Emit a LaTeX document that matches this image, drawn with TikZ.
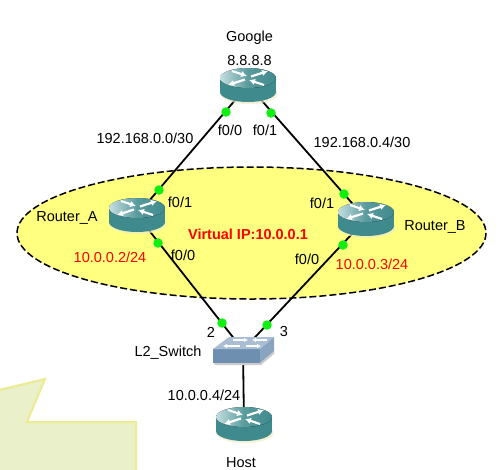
\documentclass[tikz,border=0pt]{standalone}
\usepackage{fontspec}
\setmainfont{Liberation Sans}
\usetikzlibrary{arrows.meta}
\definecolor{teal1}{HTML}{3F8A8D}
\definecolor{tealtop}{HTML}{C4DEE0}
\definecolor{ellfill}{HTML}{FFFF80}
\definecolor{callfill}{HTML}{EAF0C9}
\definecolor{calledge}{HTML}{EDEA90}
\definecolor{dotgreen}{HTML}{10F010}
\definecolor{swfront}{HTML}{6F8FB0}
\definecolor{swside}{HTML}{8AA3BF}
\definecolor{swtop}{HTML}{A9BDD3}
\tikzset{
  x=1pt,y=-1pt,
  lbl/.style={font=\fontsize{14.5}{16}\selectfont,inner sep=0pt,text=black},
  redlbl/.style={lbl,text=red},
  anchorbox/.style={inner sep=0pt,minimum width=56pt,minimum height=35pt},
  swbox/.style={inner sep=0pt,minimum width=60pt,minimum height=26pt},
  link/.style={draw=black,line width=1.8pt},
  portdot/.style={circle,fill=dotgreen,draw=none,inner sep=0pt,minimum size=9.5pt},
  whitearrow/.style={draw=white,line width=2.2pt,-{Latex[length=6pt,width=6.5pt]}},
  swarrow/.style={draw=white,line width=1.4pt,-{Latex[length=4pt,width=4.5pt]}},
}
\newcommand{\routericon}[1]{%
  \begin{scope}[shift={(#1.center)}]
    \fill[black!30!yellow!25!white,opacity=.7] (1,9) ellipse[x radius=28.5,y radius=10];
    \fill[teal1] (0,7) ellipse[x radius=28,y radius=10];
    \fill[teal1] (-28,-7) rectangle (28,7);
    \fill[left color=tealtop,right color=teal1,middle color=teal1!80!tealtop] (0,-7) ellipse[x radius=28,y radius=10];
    \draw[whitearrow] (-3,-5.5) -- (-20,0);
    \draw[whitearrow] (3,-8.5) -- (20,-14);
    \draw[whitearrow] (-16,-14) -- (-1,-9);
    \draw[whitearrow] (16,0) -- (1,-5);
  \end{scope}}
\newcommand{\switchicon}[1]{%
  \begin{scope}[shift={(#1.center)}]
    \fill[black!20] (-29,13) -- (17,13) -- (31,1) -- (31,4) -- (18,15) -- (-28,15) -- cycle;
    \fill[swfront] (-30,-1) -- (17,-1) -- (17,13) -- (-30,13) -- cycle;
    \fill[swside] (17,-1) -- (31,-13) -- (31,1) -- (17,13) -- cycle;
    \fill[swtop] (-30,-1) -- (-14,-13) -- (31,-13) -- (17,-1) -- cycle;
    \draw[swarrow] (-10,-10) -- (5,-10);
    \draw[swarrow] (24,-10) -- (9,-10);
    \draw[swarrow] (-3,-4) -- (-20,-4);
    \draw[swarrow] (3,-4) -- (18,-4);
  \end{scope}}
\begin{document}
\begin{tikzpicture}
\useasboundingbox (0,0) rectangle (503,469);
\clip (0,0) rectangle (503,469);
\fill[white] (0,0) rectangle (503,469);
% callout
\draw[fill=callfill,draw=calledge,line width=2pt] (-5,391) -- (45,379) -- (27,422) -- (136,422) -- (136,480) -- (-5,480) -- cycle;
% VIP ellipse
\draw[fill=ellfill,draw=black,line width=1.5pt,dash pattern=on 7pt off 3pt] (251.5,233) ellipse[x radius=234.5,y radius=66];
% device anchors
\node[anchorbox] (google) at (248,85) {};
\node[anchorbox] (ra) at (137,215) {};
\node[anchorbox] (rb) at (366,219) {};
\node[anchorbox] (host) at (244,424) {};
\node[swbox] (sw) at (243,350) {};
% links
\draw[link] (google.center) -- (ra.center);
\draw[link] (google.center) -- (rb.center);
\draw[link] (ra.center) -- (sw.center);
\draw[link] (rb.center) -- (sw.center);
\draw[link] (sw.center) -- (host.center);
% icons
\routericon{google}
\routericon{ra}
\routericon{rb}
\routericon{host}
\switchicon{sw}
% port dots
\node[portdot] (d1) at (226,112) {};
\node[portdot] (d2) at (271,113) {};
\node[portdot] (d3) at (159,190) {};
\node[portdot] (d4) at (158,243) {};
\node[portdot] (d5) at (344,194) {};
\node[portdot] (d6) at (343,245) {};
\node[portdot] (d7) at (222,323) {};
\node[portdot] (d8) at (267,325) {};
% labels
\node[lbl] (t1) at (249.5,38) {Google};
\node[lbl] (t2) at (249.5,61) {8.8.8.8};
\node[lbl] (t3) at (145,138) {192.168.0.0/30};
\node[lbl] (t4) at (230,130) {f0/0};
\node[lbl] (t5) at (265,130) {f0/1};
\node[lbl] (t6) at (362,142) {192.168.0.4/30};
\node[lbl] (t7) at (180,202) {f0/1};
\node[lbl] (t8) at (67,218) {Router\_A};
\node[redlbl] (t9) at (110,257) {10.0.0.2/24};
\node[lbl] (t10) at (183,255) {f0/0};
\node[redlbl,font=\fontsize{14.5}{16}\selectfont\bfseries] (t11) at (248,234) {Virtual IP:10.0.0.1};
\node[lbl] (t12) at (322,203) {f0/1};
\node[lbl] (t13) at (435,227) {Router\_B};
\node[redlbl] (t14) at (372,264) {10.0.0.3/24};
\node[lbl] (t15) at (307,259) {f0/0};
\node[lbl] (t16) at (211,332) {2};
\node[lbl] (t17) at (284,332) {3};
\node[lbl] (t18) at (168,353) {L2\_Switch};
\node[lbl] (t19) at (204,395) {10.0.0.4/24};
\node[lbl] (t20) at (241,462.5) {Host};
\end{tikzpicture}
\end{document}
